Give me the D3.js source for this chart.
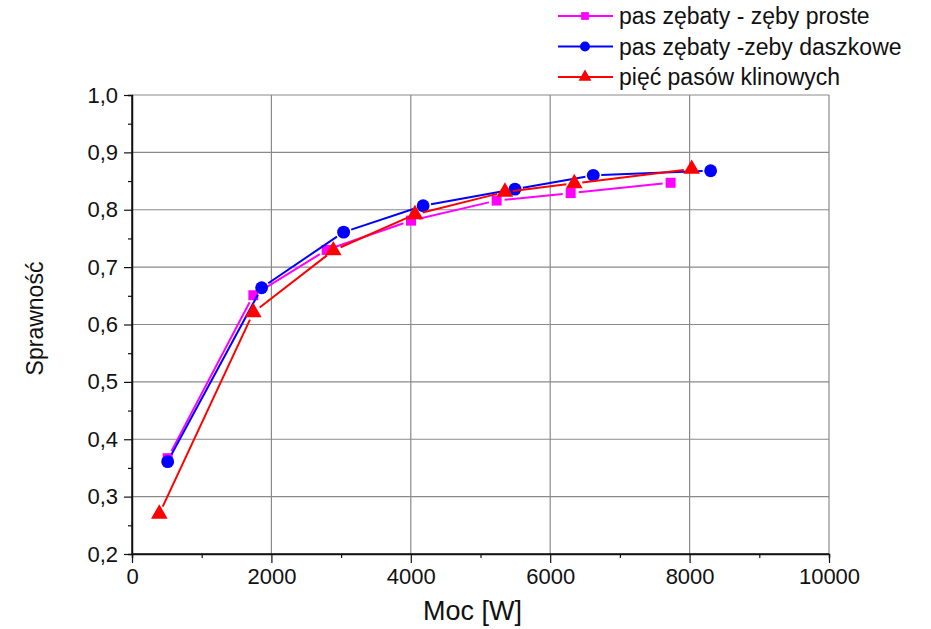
<!DOCTYPE html>
<html>
<head>
<meta charset="utf-8">
<script src="https://cdn.jsdelivr.net/npm/d3@7"></script>
<style>
  body { margin: 0; background: #fff; }
  svg text { font-family: "Liberation Sans", Arial, sans-serif; fill: #111; }
</style>
</head>
<body>
<svg id="chart" width="931" height="629"></svg>
<script>
// values
const seriesNames = ['pas zębaty - zęby proste', 'pas zębaty -zeby daszkowe', 'pięć pasów klinowych'];
const powerStraight = [512, 1741, 2793, 4003, 5232, 6294, 7728];
const effStraight = [0.367, 0.651, 0.730, 0.781, 0.816, 0.829, 0.847];
const powerHerring = [512, 1860, 3036, 4177, 5495, 6618, 8302];
const effHerring = [0.361, 0.664, 0.761, 0.807, 0.836, 0.860, 0.868];
const powerVbelt = [392, 1741, 2888, 4060, 5351, 6346, 8030];
const effVbelt = [0.270, 0.621, 0.729, 0.792, 0.831, 0.846, 0.871];
const xTicks = [0, 2000, 4000, 6000, 8000, 10000];
const yTicks = [0.2, 0.3, 0.4, 0.5, 0.6, 0.7, 0.8, 0.9, 1.0];

const series = [
  { name: seriesNames[0], xs: powerStraight, ys: effStraight, color: '#ff00ff', symbol: d3.symbolSquare, size: 100 },
  { name: seriesNames[1], xs: powerHerring, ys: effHerring, color: '#0000ff', symbol: d3.symbolCircle, size: 130 },
  { name: seriesNames[2], xs: powerVbelt, ys: effVbelt, color: '#ff0000', symbol: d3.symbolTriangle, size: 120 },
];

const margin = { left: 132, right: 102, top: 95, bottom: 75 };
const width = 931, height = 629;
const svg = d3.select('#chart');

const x = d3.scaleLinear().domain([0, 10000]).range([margin.left, width - margin.right]);
const y = d3.scaleLinear().domain([0.2, 1.0]).range([height - margin.bottom, margin.top]);
const fmtY = (v) => d3.format('.1f')(v).replace('.', ',');

// grid
const grid = svg.append('g').attr('stroke', '#8a8a8a').attr('stroke-width', 1.2);
xTicks.slice(1).forEach((t) => {
  grid.append('line').attr('x1', x(t)).attr('x2', x(t)).attr('y1', y(0.2)).attr('y2', y(1.0));
});
yTicks.slice(1).forEach((t) => {
  grid.append('line').attr('x1', x(0)).attr('x2', x(10000)).attr('y1', y(t)).attr('y2', y(t));
});

// axes
const xAxis = svg.append('g')
  .attr('transform', `translate(0,${y(0.2)})`)
  .call(d3.axisBottom(x).tickValues(xTicks).tickSize(9).tickPadding(5).tickFormat(d3.format('d')));
svg.append('g')
  .attr('transform', `translate(0,${y(0.2)})`)
  .call(d3.axisBottom(x).tickValues(d3.range(1000, 10000, 2000)).tickSize(4).tickFormat(''));
const yAxis = svg.append('g')
  .attr('transform', `translate(${x(0)},0)`)
  .call(d3.axisLeft(y).tickValues(yTicks).tickSize(8).tickPadding(6).tickFormat(fmtY));
svg.append('g')
  .attr('transform', `translate(${x(0)},0)`)
  .call(d3.axisLeft(y).tickValues(d3.range(0.25, 1.0, 0.1)).tickSize(4).tickFormat(''));
svg.selectAll('.domain').attr('stroke', '#111').attr('stroke-width', 1.5);
svg.selectAll('.tick line').attr('stroke', '#111').attr('stroke-width', 1.2);
svg.selectAll('.tick text').style('font-size', '22px').attr('fill', '#111');
xAxis.selectAll('.domain').attr('d', `M${x(0)},0H${x(10000)}`);
yAxis.selectAll('.domain').attr('d', `M0,${y(0.2)}V${y(1.0)}`);

// axis titles
svg.append('text').attr('x', x(5000) - 8).attr('y', 620).attr('text-anchor', 'middle')
  .style('font-size', '27px').text('Moc [W]');
svg.append('text').attr('transform', `translate(43,${y(0.6) - 6}) rotate(-90)`).attr('text-anchor', 'middle')
  .style('font-size', '23px').text('Sprawność');

// lines with a gap around markers
const gap = 8;
series.forEach((s) => {
  const pts = s.xs.map((v, i) => [x(v), y(s.ys[i])]);
  const g = svg.append('g');
  for (let i = 0; i < pts.length - 1; i++) {
    const [x1, y1] = pts[i];
    const [x2, y2] = pts[i + 1];
    const len = Math.hypot(x2 - x1, y2 - y1);
    const ux = (x2 - x1) / len, uy = (y2 - y1) / len;
    g.append('line')
      .attr('x1', x1 + ux * gap).attr('y1', y1 + uy * gap)
      .attr('x2', x2 - ux * gap).attr('y2', y2 - uy * gap)
      .attr('stroke', s.color).attr('stroke-width', 2);
  }
  g.selectAll('path')
    .data(pts)
    .join('path')
    .attr('transform', (d) => `translate(${d[0]},${d[1]})`)
    .attr('d', d3.symbol().type(s.symbol).size(s.size))
    .attr('fill', s.color);
});

// legend
const legend = svg.append('g');
series.forEach((s, i) => {
  const ly = 16 + i * 30.5;
  legend.append('line').attr('x1', 558).attr('x2', 613).attr('y1', ly).attr('y2', ly)
    .attr('stroke', s.color).attr('stroke-width', 2);
  legend.append('path').attr('transform', `translate(585,${ly})`)
    .attr('d', d3.symbol().type(s.symbol).size(s.size * 0.6)).attr('fill', s.color);
  legend.append('text').attr('x', 619).attr('y', ly).attr('dy', '0.35em')
    .style('font-size', '23px').text(s.name);
});
</script>
</body>
</html>
